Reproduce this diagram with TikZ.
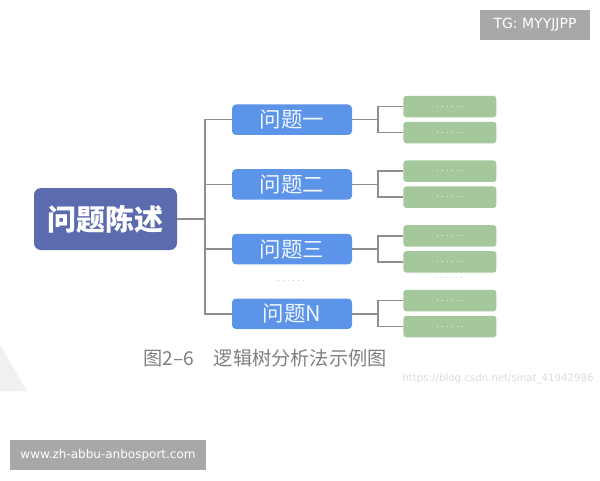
\documentclass[tikz,border=0pt]{standalone}
\usepackage{xcolor}
\usepackage{fontspec}
\setmainfont{DejaVu Sans}
\newfontfamily\cjk{Noto Sans CJK SC}
\newfontfamily\spaced[LetterSpace=30]{DejaVu Sans}
\usetikzlibrary{calc,positioning}
\definecolor{rootblue}{HTML}{5A6BAE}
\definecolor{issueblue}{HTML}{5B94E8}
\definecolor{leafgreen}{HTML}{A5C79C}
\definecolor{linegray}{HTML}{8E8E8E}
\definecolor{tagGray}{HTML}{A8A8A8}

\begin{document}
\begin{tikzpicture}
  [
  x=1pt,y=-1pt,
  rootbox/.style={rectangle,rounded corners=7pt,fill=rootblue,text=white,inner sep=0pt,
    minimum width=143pt,minimum height=62pt,font=\cjk\bfseries\fontsize{29}{29}\selectfont},
  issue/.style={rectangle,rounded corners=4pt,fill=issueblue,text=white!92!issueblue,inner sep=0pt,
    minimum width=120pt,minimum height=30.5pt,font=\cjk\fontsize{21.5}{21.5}\selectfont},
  leaf/.style={rectangle,rounded corners=3pt,fill=leafgreen,text=white,inner sep=0pt,
    minimum width=93pt,minimum height=21.5pt,font=\spaced\fontsize{8}{8}\selectfont},
  tag/.style={rectangle,fill=tagGray,text=white,inner sep=0pt},
  branch/.style={draw=linegray,line width=1.5pt},
  node distance=33.8pt and 51pt
  ]
  \useasboundingbox (0,0) rectangle (600,480);
  \fill[gray!12] (0,345) -- (27,391) -- (0,391) -- cycle;

  \node[rootbox] (root) at (105.5,219) {问题陈述};
  \node[issue] (issue one) at (292,119.7) {问题一};
  \node[issue] (issue two) [below = of issue one] {问题二};
  \node[issue] (issue three) [below = of issue two] {问题三};
  \node[issue] (issue n) [below = of issue three] {问题N};

  \node[leaf] (leaf 1a) [right = of issue one,yshift=13.2pt] {......};
  \node[leaf] (leaf 1b) [right = of issue one,yshift=-12.8pt] {......};
  \node[leaf] (leaf 2a) [right = of issue two,yshift=13.2pt] {......};
  \node[leaf] (leaf 2b) [right = of issue two,yshift=-12.8pt] {......};
  \node[leaf] (leaf 3a) [right = of issue three,yshift=13.2pt] {......};
  \node[leaf] (leaf 3b) [right = of issue three,yshift=-12.8pt] {......};
  \node[leaf] (leaf na) [right = of issue n,yshift=13.2pt] {......};
  \node[leaf] (leaf nb) [right = of issue n,yshift=-12.8pt] {......};

  % trunk
  \coordinate (trunk) at ($(root.east)+(28,0)$);
  \draw[branch] (root) -- (trunk);
  \draw[branch] (trunk) |- (issue one);
  \draw[branch] (trunk) |- (issue two);
  \draw[branch] (trunk) |- (issue three);
  \draw[branch] (trunk) |- (issue n);

  % forks
  \coordinate (fork one) at ($(issue one.east)+(26,0)$);
  \coordinate (fork two) at ($(issue two.east)+(26,0)$);
  \coordinate (fork three) at ($(issue three.east)+(26,0)$);
  \coordinate (fork n) at ($(issue n.east)+(26,0)$);
  \draw[branch] (issue one) -- (fork one) (fork one) |- (leaf 1a) (fork one) |- (leaf 1b);
  \draw[branch] (issue two) -- (fork two) (fork two) |- (leaf 2a) (fork two) |- (leaf 2b);
  \draw[branch] (issue three) -- (fork three) (fork three) |- (leaf 3a) (fork three) |- (leaf 3b);
  \draw[branch] (issue n) -- (fork n) (fork n) |- (leaf na) (fork n) |- (leaf nb);

  \node[text=gray!50,font=\spaced\fontsize{8}{8}\selectfont] (dots left) at (291,281) {......};
  \node[text=gray!40,font=\spaced\fontsize{8}{8}\selectfont] (dots right) at (449,278) {......};

  \node[text=black!50,font=\cjk\fontsize{19.2}{19.2}\selectfont] (caption) at (265,358) {图2–6\hspace{20pt}逻辑树分析法示例图};
  \node[text=black!14,font=\fontsize{10.2}{10.2}\selectfont] (source) at (498,379) {https://blog.csdn.net/sinat\_41942986};

  \node[tag,minimum width=110pt,minimum height=30pt,font=\fontsize{14}{14}\selectfont] (tag top) at (535,25) {TG: MYYJJPP};
  \node[tag,minimum width=196pt,minimum height=30pt,font=\fontsize{12}{12}\selectfont] (tag site) at (108,455) {www.zh-abbu-anbosport.com};
\end{tikzpicture}
\end{document}
